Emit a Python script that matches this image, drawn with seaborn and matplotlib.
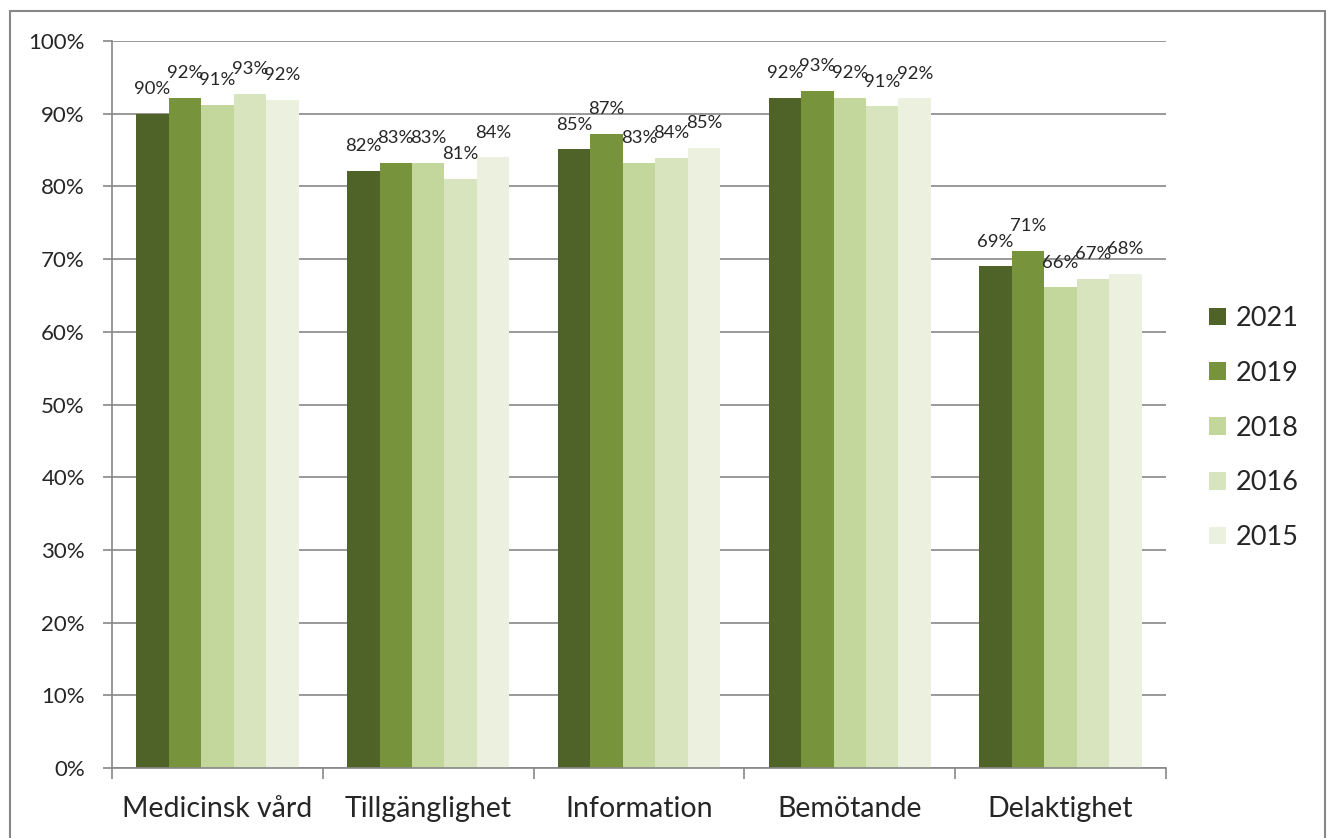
import matplotlib.pyplot as plt
import seaborn as sns
import pandas as pd
from matplotlib.patches import Rectangle
from matplotlib.ticker import FuncFormatter, FixedLocator

# Categories and yearly series (percent)
categories = ["Medicinsk vård", "Tillgänglighet", "Information", "Bemötande", "Delaktighet"]
years = ["2021", "2019", "2018", "2016", "2015"]
v2021 = [90.0, 82.1, 85.1, 92.2, 69.0]
v2019 = [92.2, 83.2, 87.2, 93.1, 71.1]
v2018 = [91.2, 83.2, 83.2, 92.2, 66.1]
v2016 = [92.7, 81.0, 83.9, 91.0, 67.3]
v2015 = [91.9, 84.0, 85.3, 92.1, 68.0]
colors = ["#4F6228", "#77933C", "#C3D69B", "#D7E4BD", "#EBF1DE"]

series = [v2021, v2019, v2018, v2016, v2015]
rows = []
for year, vals in zip(years, series):
    for cat, v in zip(categories, vals):
        rows.append({"Kategori": cat, "År": year, "Andel": v})
df = pd.DataFrame(rows)

sns.set_style("white")
plt.rcParams["font.family"] = ["Lato", "DejaVu Sans"]

fig = plt.figure(figsize=(13.33, 8.38), dpi=100)
ax = fig.add_axes([112 / 1333, 1 - 768 / 838, (1166 - 112) / 1333, (768 - 41) / 838])

sns.barplot(data=df, x="Kategori", y="Andel", hue="År", hue_order=years,
            palette=colors, width=0.77, linewidth=0, saturation=1, ax=ax)

# Data labels
for cont, vals in zip(ax.containers, series):
    ax.bar_label(cont, labels=[f"{round(v)}%" for v in vals], padding=12, fontsize=13.3)

gray = "#878787"
ax.set_ylim(0, 100)
ax.set_xlim(-0.5, len(categories) - 0.5)
ax.set_yticks(range(0, 101, 10))
ax.yaxis.set_major_formatter(FuncFormatter(lambda v, p: f"{int(v)}%"))
ax.grid(axis="y", color=gray, linewidth=1.2)
ax.set_axisbelow(True)
ax.set_xlabel("")
ax.set_ylabel("")

for s in ["top", "right"]:
    ax.spines[s].set_visible(False)
for s in ["left", "bottom"]:
    ax.spines[s].set_color(gray)
    ax.spines[s].set_linewidth(1.2)

ax.tick_params(axis="y", left=True, length=6.5, width=1.2, color=gray, pad=13, labelsize=16)
ax.tick_params(axis="x", which="major", length=0, pad=20, labelsize=20.5)
ax.xaxis.set_minor_locator(FixedLocator([i - 0.5 for i in range(len(categories) + 1)]))
ax.tick_params(axis="x", which="minor", bottom=True, length=8, width=1.2, color=gray)

sns.move_legend(ax, loc="center left", bbox_to_anchor=(1209 / 1333, 1 - 428 / 838),
                bbox_transform=fig.transFigure, frameon=False, title=None,
                fontsize=19.5, handlelength=0.63, handleheight=0.63,
                handletextpad=0.35, labelspacing=1.1, borderpad=0, borderaxespad=0)

# Outer chart border
fig.add_artist(Rectangle((10 / 1333, -0.02), (1325 - 10) / 1333, 1.02 - 11 / 838,
                         transform=fig.transFigure, fill=False, edgecolor=gray, linewidth=1.5))

plt.savefig("out.png", dpi=100)
